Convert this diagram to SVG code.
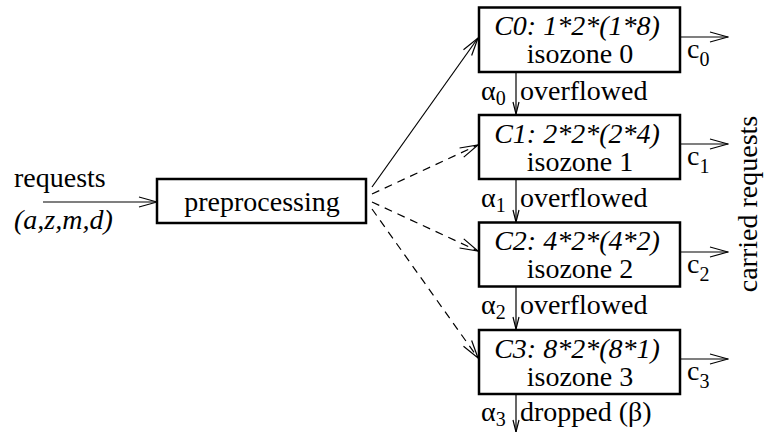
<svg xmlns="http://www.w3.org/2000/svg" width="764" height="432" viewBox="0 0 764 432">
<defs>
<style>
text{font-family:'Liberation Serif',Tinos,'Times New Roman',Times,'Nimbus Roman','Nimbus Roman No9 L',FreeSerif,'Noto Serif','DejaVu Serif',serif;font-size:28px;fill:#000}
.it{font-style:italic}
.sub{font-size:20px}
.box{fill:#fff;stroke:#000;stroke-width:2.5}
.ln{fill:none;stroke:#000;stroke-width:1.2}
.dash{stroke-dasharray:8 6}
</style>
<marker id="ah" viewBox="0 0 20 12" refX="19" refY="6" markerWidth="20" markerHeight="12" markerUnits="userSpaceOnUse" orient="auto">
<path d="M1,1 L19,6 L1,11" fill="none" stroke="#000" stroke-width="1.2"/>
</marker>
<marker id="ahs" viewBox="0 0 14 8" refX="13" refY="4" markerWidth="14" markerHeight="8" markerUnits="userSpaceOnUse" orient="auto">
<path d="M1,1 L13,4 L1,7" fill="none" stroke="#000" stroke-width="1.2"/>
</marker>
</defs>
<rect width="764" height="432" fill="#fff"/>

<g id="connectors">
<line class="ln" x1="43" y1="202" x2="157" y2="202" marker-end="url(#ah)"/>
<line class="ln" x1="372" y1="187" x2="478" y2="38" marker-end="url(#ah)"/>
<line class="ln dash" x1="372" y1="194" x2="478" y2="145" marker-end="url(#ah)"/>
<line class="ln dash" x1="372" y1="202" x2="478" y2="251" marker-end="url(#ah)"/>
<line class="ln dash" x1="372" y1="209" x2="478" y2="358" marker-end="url(#ah)"/>
<line class="ln" x1="680" y1="37" x2="728" y2="37" marker-end="url(#ah)"/>
<line class="ln" x1="680" y1="144" x2="728" y2="144" marker-end="url(#ah)"/>
<line class="ln" x1="680" y1="252" x2="728" y2="252" marker-end="url(#ah)"/>
<line class="ln" x1="680" y1="359" x2="728" y2="359" marker-end="url(#ah)"/>
<line class="ln" x1="516" y1="72" x2="516" y2="114" marker-end="url(#ahs)"/>
<line class="ln" x1="516" y1="179" x2="516" y2="222" marker-end="url(#ahs)"/>
<line class="ln" x1="516" y1="286" x2="516" y2="329" marker-end="url(#ahs)"/>
<line class="ln" x1="516" y1="394" x2="516" y2="432" marker-end="url(#ahs)"/>
</g>

<g id="input-label">
<text x="14" y="187">requests</text>
<text class="it" x="14" y="229">(a,z,m,d)</text>
</g>

<g id="preprocessing">
<rect class="box" x="157" y="179" width="209" height="44"/>
<text x="262" y="211" text-anchor="middle">preprocessing</text>
</g>

<g id="C0">
<rect class="box" x="479" y="7.5" width="201" height="64.5"/>
<text class="it" x="577" y="35" text-anchor="middle">C0: 1*2*(1*8)</text>
<text x="580" y="63" text-anchor="middle">isozone 0</text>
</g>
<g id="C1">
<rect class="box" x="479" y="115" width="201" height="64"/>
<text class="it" x="577" y="142.5" text-anchor="middle">C1: 2*2*(2*4)</text>
<text x="580" y="170.5" text-anchor="middle">isozone 1</text>
</g>
<g id="C2">
<rect class="box" x="479" y="222.5" width="201" height="64"/>
<text class="it" x="577" y="250" text-anchor="middle">C2: 4*2*(4*2)</text>
<text x="580" y="278" text-anchor="middle">isozone 2</text>
</g>
<g id="C3">
<rect class="box" x="479" y="330" width="201" height="64"/>
<text class="it" x="577" y="357.5" text-anchor="middle">C3: 8*2*(8*1)</text>
<text x="580" y="385.5" text-anchor="middle">isozone 3</text>
</g>

<g id="carried-labels">
<text x="687" y="58">c<tspan class="sub" dy="8">0</tspan></text>
<text x="687" y="165">c<tspan class="sub" dy="8">1</tspan></text>
<text x="687" y="273">c<tspan class="sub" dy="8">2</tspan></text>
<text x="687" y="380">c<tspan class="sub" dy="8">3</tspan></text>
</g>

<g id="overflow-labels">
<text x="481" y="100">α<tspan class="sub" dy="5">0</tspan></text>
<text x="520" y="100">overflowed</text>
<text x="481" y="207">α<tspan class="sub" dy="5">1</tspan></text>
<text x="520" y="207">overflowed</text>
<text x="481" y="314">α<tspan class="sub" dy="5">2</tspan></text>
<text x="520" y="314">overflowed</text>
<text x="481" y="421">α<tspan class="sub" dy="5">3</tspan></text>
<text x="520" y="421">dropped (β)</text>
</g>

<g id="carried-requests">
<text transform="translate(757,204) rotate(-90)" text-anchor="middle">carried requests</text>
</g>
</svg>
